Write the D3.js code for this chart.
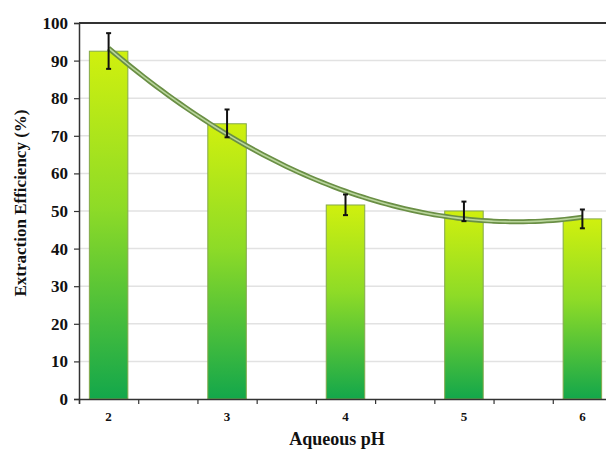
<!DOCTYPE html>
<html><head><meta charset="utf-8">
<script src="https://cdn.jsdelivr.net/npm/d3@7"></script>
<style>body{margin:0;background:#fff}svg{display:block}</style>
</head><body>
<svg id="c" width="606" height="451"></svg>
<script>
const categories = [2, 3, 4, 5, 6];
const efficiency = [92.5, 73.2, 51.6, 50.0, 47.9];
const errUpper = [97.3, 77.0, 54.4, 52.5, 50.4];
const errLower = [87.8, 69.6, 48.9, 47.3, 45.4];
const yTicks = [0, 10, 20, 30, 40, 50, 60, 70, 80, 90, 100];
const xMinorTicks = [1.75, 2.25, 2.75, 3.25, 3.75, 4.25, 4.75, 5.25, 5.75, 6.25];

const svg = d3.select("#c");
const x = d3.scaleLinear().domain([1.75, 6.25]).range([79, 612]);
const y = d3.scaleLinear().domain([0, 100]).range([399, 23]);
const font = "'Liberation Serif','Times New Roman',serif";

// gridlines
svg.append("g").selectAll("line").data(yTicks.filter(d => d > 0 && d < 100)).join("line")
  .attr("x1", x(1.75)).attr("x2", 606).attr("y1", d => y(d)).attr("y2", d => y(d))
  .attr("stroke", "#e2e2e2").attr("stroke-width", 1.5);

// gradient
const defs = svg.append("defs");
const g = defs.append("linearGradient").attr("id", "bg").attr("x1", 0).attr("y1", 0).attr("x2", 0).attr("y2", 1);
g.append("stop").attr("offset", "0%").attr("stop-color", "#d0f00e");
g.append("stop").attr("offset", "45%").attr("stop-color", "#8edb27");
g.append("stop").attr("offset", "100%").attr("stop-color", "#13a74b");

const bw = 0.325;
svg.append("g").selectAll("rect").data(categories).join("rect")
  .attr("x", (d) => x(d - bw / 2)).attr("width", x(bw) - x(0))
  .attr("y", (d, i) => y(efficiency[i])).attr("height", (d, i) => y(0) - y(efficiency[i]))
  .attr("fill", "url(#bg)").attr("stroke", "#84a84c").attr("stroke-width", 1);

// quadratic least-squares trendline from the bar data
const n = categories.length;
const mx = d3.mean(categories);
const t = categories.map(v => v - mx);
const t2m = d3.mean(t.map(v => v * v));
const q = t.map(v => v * v - t2m);
const a0 = d3.mean(efficiency);
const a1 = d3.sum(t.map((v, i) => v * efficiency[i])) / d3.sum(t.map(v => v * v));
const a2 = d3.sum(q.map((v, i) => v * efficiency[i])) / d3.sum(q.map(v => v * v));
const fit = xv => a0 + a1 * (xv - mx) + a2 * ((xv - mx) ** 2 - t2m);
const trend = d3.range(2, 6.0001, 0.05).map(v => [v, fit(v)]);
const line = d3.line().x(d => x(d[0])).y(d => y(d[1])).curve(d3.curveMonotoneX);
svg.append("path").datum(trend).attr("d", line).attr("fill", "none")
  .attr("stroke", "#6a8f45").attr("stroke-width", 5);
svg.append("path").datum(trend).attr("d", line).attr("fill", "none")
  .attr("stroke", "#b9d59c").attr("stroke-width", 1.6);

// error bars
const eb = svg.append("g").attr("stroke", "#111").attr("stroke-width", 2);
categories.forEach((c, i) => {
  eb.append("line").attr("x1", x(c)).attr("x2", x(c)).attr("y1", y(errUpper[i])).attr("y2", y(errLower[i]));
  eb.append("line").attr("x1", x(c) - 2.5).attr("x2", x(c) + 2.5).attr("y1", y(errUpper[i])).attr("y2", y(errUpper[i]));
  eb.append("line").attr("x1", x(c) - 2.5).attr("x2", x(c) + 2.5).attr("y1", y(errLower[i])).attr("y2", y(errLower[i]));
});

// top frame
svg.append("line").attr("x1", x(1.75)).attr("x2", 606).attr("y1", y(100)).attr("y2", y(100))
  .attr("stroke", "#333").attr("stroke-width", 2);

// y axis
const ya = svg.append("g").attr("transform", `translate(${x(1.75)},0)`)
  .call(d3.axisLeft(y).tickValues(yTicks).tickSize(5).tickPadding(6).tickFormat(d3.format("d")));
ya.select(".domain").attr("stroke", "#333").attr("stroke-width", 1.5);
ya.selectAll(".tick line").attr("stroke", "#333").attr("stroke-width", 1.2);
ya.selectAll("text").attr("font-family", font).attr("font-weight", "bold").attr("font-size", 17).attr("fill", "#111");

// x axis
const xa = svg.append("g").attr("transform", `translate(0,${y(0)})`)
  .call(d3.axisBottom(x).tickValues(xMinorTicks).tickSize(5).tickFormat(""));
xa.select(".domain").attr("stroke", "#333").attr("stroke-width", 1.5);
xa.selectAll(".tick line").attr("stroke", "#333").attr("stroke-width", 1.2);
svg.append("g").selectAll("text").data(categories).join("text")
  .attr("x", d => x(d)).attr("y", 421).attr("text-anchor", "middle")
  .attr("font-family", font).attr("font-weight", "bold").attr("font-size", 13).attr("fill", "#111")
  .text(d => d);

// titles
svg.append("text").attr("x", 337).attr("y", 445).attr("text-anchor", "middle")
  .attr("font-family", font).attr("font-weight", "bold").attr("font-size", 18).attr("fill", "#111")
  .text("Aqueous pH");
svg.append("text").attr("transform", "translate(26,203) rotate(-90)").attr("text-anchor", "middle")
  .attr("font-family", font).attr("font-weight", "bold").attr("font-size", 17).attr("fill", "#111")
  .text("Extraction Efficiency (%)");
</script>
</body></html>
